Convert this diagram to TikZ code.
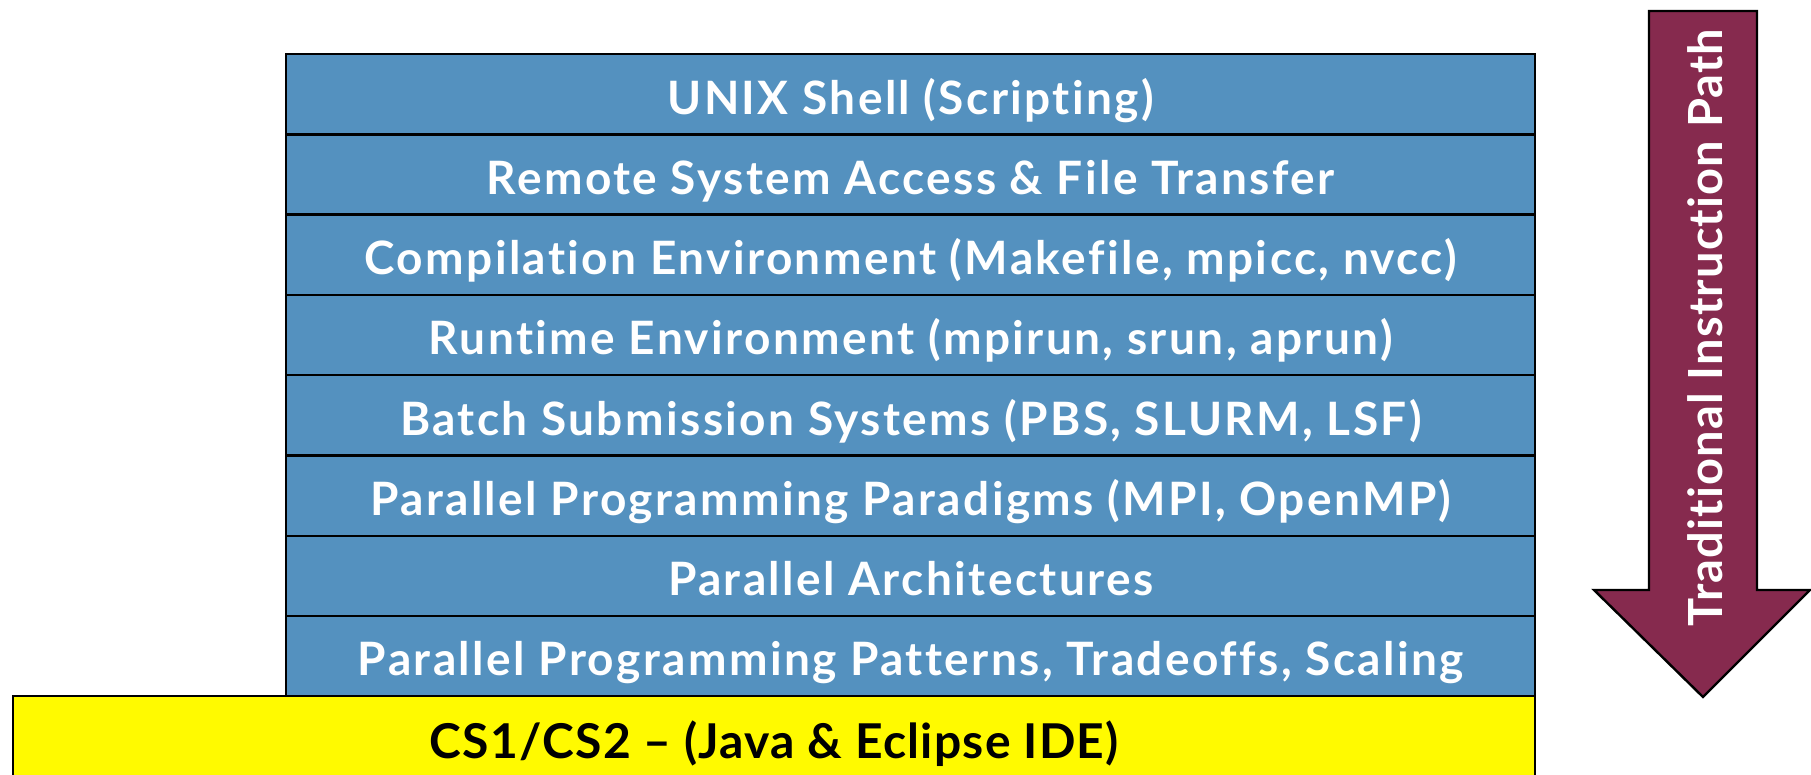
\documentclass[tikz,border=0pt]{standalone}
\usepackage{fontspec}
\setmainfont{Lato}[UprightFont=* Bold, Ligatures=NoCommon]
\newfontfamily\layerfont{Lato}[UprightFont=* Bold, Ligatures=NoCommon, LetterSpace=5.2]
\newfontfamily\basefont{Lato}[UprightFont=* Bold, Ligatures=NoCommon, LetterSpace=2.5]
\definecolor{layerblue}{RGB}{84,145,191}
\definecolor{baseyellow}{RGB}{255,250,0}
\definecolor{pathmaroon}{RGB}{134,42,78}
\begin{document}
\begin{tikzpicture}[x=0.5pt,y=-0.5pt,
  layer/.style={draw=black, line width=1.2pt, fill=layerblue, text=white,
    minimum width=624.5pt, minimum height=40.125pt, inner sep=0pt,
    text height=30pt, text depth=10.125pt, anchor=north west,
    font=\layerfont\fontsize{23}{23}\selectfont},
  basebox/.style={layer, fill=baseyellow, text=black, minimum width=761pt,
    text height=31pt, text depth=9.125pt, font=\basefont\fontsize{24}{24}\selectfont},
  pathlabel/.style={text=white, rotate=90, anchor=base, inner sep=0pt,
    font=\basefont\fontsize{23.5}{23.5}\selectfont}]
\useasboundingbox (0,0) rectangle (1811,775);

% course layers, top to bottom
\node[layer] (l1) at (285,53)     {UNIX Shell (Scripting)};
\node[layer] (l2) at (285,133.25) {Remote System Access \& File Transfer};
\node[layer] (l3) at (285,213.5)  {Compilation Environment (Makefile, mpicc, nvcc)};
\node[layer] (l4) at (285,293.75) {Runtime Environment (mpirun, srun, aprun)};
\node[layer] (l5) at (285,374)    {Batch Submission Systems (PBS, SLURM, LSF)};
\node[layer] (l6) at (285,454.25) {Parallel Programming Paradigms (MPI, OpenMP)};
\node[layer] (l7) at (285,534.5)  {Parallel Architectures};
\node[layer] (l8) at (285,614.75) {Parallel Programming Patterns, Tradeoffs, Scaling};

% foundation layer
\node[basebox] (base) at (12,695) {CS1/CS2 – (Java \& Eclipse IDE)};

% downward arrow for the instruction order
\filldraw[fill=pathmaroon, draw=black, line width=1.2pt, line join=miter]
  (1649,11) -- (1757,11) -- (1757,590) -- (1810,590) -- (1703,697)
  -- (1594,590) -- (1649,590) -- cycle;
\node[pathlabel] (path) at (1722,327.5) {Traditional Instruction Path};
\end{tikzpicture}
\end{document}
